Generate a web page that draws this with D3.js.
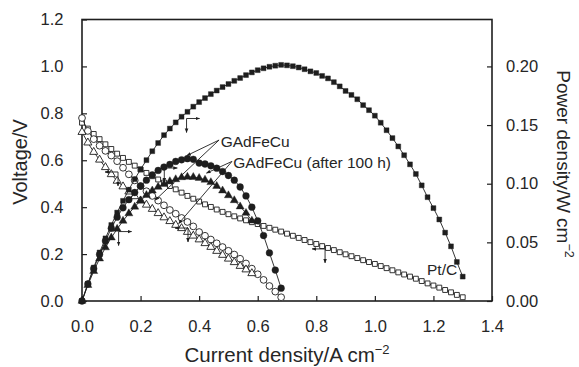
<!DOCTYPE html>
<html><head><meta charset="utf-8">
<script src="https://cdn.jsdelivr.net/npm/d3@7"></script>
<style>
html,body{margin:0;padding:0;background:#fff;}
svg{display:block;font-family:"Liberation Sans",Arial,sans-serif;}
</style></head>
<body><svg id="c" width="579" height="367"></svg>
<script>
// ---------------- data ----------------
const ptCurrent = [0.00,0.02,0.04,0.06,0.08,0.10,0.12,0.14,0.16,0.18,0.20,0.22,0.24,0.26,0.28,0.30,0.32,0.34,0.36,0.38,0.40,0.42,0.44,0.46,0.48,0.50,0.52,0.54,0.56,0.58,0.60,0.62,0.64,0.66,0.68,0.70,0.72,0.74,0.76,0.78,0.80,0.82,0.84,0.86,0.88,0.90,0.92,0.94,0.96,0.98,1.00,1.02,1.04,1.06,1.08,1.10,1.12,1.14,1.16,1.18,1.20,1.22,1.24,1.26,1.28,1.30];
const ptVoltage = [0.760,0.735,0.712,0.690,0.668,0.648,0.628,0.610,0.593,0.577,0.561,0.546,0.532,0.518,0.505,0.490,0.476,0.462,0.448,0.436,0.424,0.412,0.401,0.390,0.380,0.370,0.361,0.352,0.344,0.336,0.328,0.320,0.312,0.304,0.296,0.287,0.278,0.269,0.260,0.251,0.243,0.234,0.226,0.217,0.208,0.199,0.191,0.183,0.174,0.166,0.158,0.149,0.140,0.131,0.122,0.113,0.104,0.095,0.085,0.075,0.066,0.057,0.047,0.037,0.026,0.016];
const ptPower = [0.000,0.0147,0.0285,0.0414,0.0534,0.0648,0.0754,0.0854,0.0949,0.1039,0.1122,0.1201,0.1277,0.1347,0.1414,0.1470,0.1523,0.1571,0.1613,0.1657,0.1696,0.1730,0.1764,0.1794,0.1824,0.1850,0.1877,0.1901,0.1926,0.1949,0.1968,0.1984,0.1997,0.2006,0.2013,0.2009,0.2002,0.1991,0.1976,0.1958,0.1944,0.1919,0.1898,0.1866,0.1830,0.1791,0.1757,0.1720,0.1670,0.1627,0.1580,0.1520,0.1456,0.1389,0.1318,0.1243,0.1165,0.1083,0.0986,0.0885,0.0792,0.0695,0.0583,0.0466,0.0333,0.0208];

const gaCurrent = [0.00,0.02,0.04,0.06,0.08,0.10,0.12,0.14,0.16,0.18,0.20,0.22,0.24,0.26,0.28,0.30,0.32,0.34,0.36,0.38,0.40,0.42,0.44,0.46,0.48,0.50,0.52,0.54,0.56,0.58,0.60,0.62,0.64,0.66,0.68];
const gaVoltage = [0.780,0.725,0.690,0.662,0.640,0.620,0.596,0.568,0.540,0.514,0.490,0.468,0.448,0.428,0.408,0.388,0.372,0.354,0.337,0.318,0.294,0.278,0.262,0.246,0.230,0.214,0.198,0.180,0.160,0.138,0.114,0.090,0.064,0.040,0.016];
const gaPower = [0.000,0.0145,0.0276,0.0397,0.0512,0.0620,0.0715,0.0795,0.0864,0.0925,0.0980,0.1030,0.1075,0.1113,0.1142,0.1164,0.1190,0.1204,0.1213,0.1208,0.1176,0.1168,0.1153,0.1132,0.1104,0.1070,0.1030,0.0972,0.0896,0.0800,0.0684,0.0558,0.0410,0.0264,0.0109];

const agCurrent = [0.00,0.02,0.04,0.06,0.08,0.10,0.12,0.14,0.16,0.18,0.20,0.22,0.24,0.26,0.28,0.30,0.32,0.34,0.36,0.38,0.40,0.42,0.44,0.46,0.48,0.50,0.52,0.54,0.56,0.58];
const agVoltage = [0.720,0.675,0.635,0.602,0.570,0.540,0.512,0.488,0.466,0.446,0.428,0.410,0.392,0.374,0.356,0.340,0.324,0.310,0.294,0.278,0.262,0.246,0.230,0.213,0.196,0.180,0.165,0.149,0.134,0.118];
const agPower = [0.000,0.0135,0.0254,0.0361,0.0456,0.0540,0.0614,0.0683,0.0746,0.0803,0.0856,0.0902,0.0941,0.0972,0.0997,0.1020,0.1037,0.1054,0.1058,0.1056,0.1048,0.1033,0.1012,0.0980,0.0941,0.0900,0.0858,0.0805,0.0750,0.0684];

const xTicks = [0,0.2,0.4,0.6,0.8,1.0,1.2,1.4];
const yLeftTicks = [0,0.2,0.4,0.6,0.8,1.0,1.2];
const yRightTicks = [0,0.05,0.10,0.15,0.20];

const labelTexts = ["GAdFeCu","GAdFeCu (after 100 h)","Pt/C"];

// ---------------- layout ----------------
const svg = d3.select("#c");
const L = 82, R = 492, T = 19.5, B = 301;
const x = d3.scaleLinear().domain([0,1.4]).range([L,R]);
const yL = d3.scaleLinear().domain([0,1.2]).range([B,T]);
const yR = d3.scaleLinear().domain([0,0.24]).range([B,T]);
const ink = "#1e1e1e";
const txt = "#262626";

// frame
svg.append("rect").attr("x",L).attr("y",T).attr("width",R-L).attr("height",B-T)
  .attr("fill","none").attr("stroke",ink).attr("stroke-width",1.6);

function styleAxis(g){
  g.select(".domain").remove();
  g.selectAll(".tick line").attr("stroke",ink).attr("stroke-width",1.2);
  g.selectAll(".tick text").attr("fill",txt).style("font-size","16.5px");
}
svg.append("g").attr("transform",`translate(0,${B})`)
  .call(d3.axisBottom(x).tickValues(xTicks).tickFormat(d3.format(".1f")).tickSizeInner(-5).tickSizeOuter(0).tickPadding(19))
  .call(styleAxis);
svg.append("g").attr("transform",`translate(${L},0)`)
  .call(d3.axisLeft(yL).tickValues(yLeftTicks).tickFormat(d3.format(".1f")).tickSizeInner(-5).tickSizeOuter(0).tickPadding(18.5))
  .call(styleAxis);
svg.append("g").attr("transform",`translate(${R},0)`)
  .call(d3.axisRight(yR).tickValues(yRightTicks).tickFormat(d3.format(".2f")).tickSizeInner(-5).tickSizeOuter(0).tickPadding(14))
  .call(styleAxis);

// axis titles
const xt = svg.append("text").attr("x",(L+R)/2).attr("y",362).attr("text-anchor","middle")
  .attr("fill",txt).style("font-size","20.5px");
xt.append("tspan").text("Current density/A cm");
xt.append("tspan").attr("dy",-8).style("font-size","13px").text("\u22122");

svg.append("text").attr("transform","translate(27,162) rotate(-90)").attr("text-anchor","middle")
  .attr("fill",txt).style("font-size","20px").text("Voltage/V");

const rt = svg.append("text").attr("transform","translate(557,164) rotate(90)").attr("text-anchor","middle")
  .attr("fill",txt).style("font-size","19px");
rt.append("tspan").text("Power density/W cm");
rt.append("tspan").attr("dy",-8).style("font-size","12.5px").text("\u22122");

// ---------------- series ----------------
const plot = svg.append("g");
function series(cur, vals, scale, shape, filled, size){
  const pts = cur.map((c,i)=>[x(c), scale(vals[i])]);
  plot.append("path").attr("d", d3.line()(pts)).attr("fill","none").attr("stroke",ink).attr("stroke-width",0.9);
  plot.append("g").selectAll("path").data(pts).join("path")
    .attr("transform",d=>`translate(${d[0]},${d[1]})`)
    .attr("d", d3.symbol().type(shape).size(size))
    .attr("fill", filled ? ink : "#fff")
    .attr("stroke", ink).attr("stroke-width", filled ? 0.4 : 0.9);
}
series(ptCurrent, ptVoltage, yL, d3.symbolSquare, false, 24);
series(gaCurrent, gaVoltage, yL, d3.symbolCircle, false, 36);
series(agCurrent, agVoltage, yL, d3.symbolTriangle, false, 28);
series(ptCurrent, ptPower, yR, d3.symbolSquare, true, 24);
series(gaCurrent, gaPower, yR, d3.symbolCircle, true, 36);
series(agCurrent, agPower, yR, d3.symbolTriangle, true, 28);

// ---------------- annotations ----------------
const defs = svg.append("defs");
defs.append("marker").attr("id","ah").attr("viewBox","0 0 10 10").attr("refX",9).attr("refY",5)
  .attr("markerWidth",5).attr("markerHeight",5).attr("orient","auto-start-reverse")
  .append("path").attr("d","M0,1 L10,5 L0,9 Z").attr("fill",ink);

const ann = svg.append("g").attr("stroke",ink).attr("stroke-width",0.9).attr("fill","none");
// axis-pointer corners: [current, voltage, direction]
const corners = [[0.357,0.778,1],[0.281,0.567,1],[0.125,0.296,1],[0.362,0.311,-1],[0.830,0.222,-1],[0.123,0.55,-1]];
corners.forEach(([c,v,d])=>{
  const cx=x(c), cy=yL(v);
  ann.append("line").attr("x1",cx).attr("y1",cy).attr("x2",cx+d*13).attr("y2",cy).attr("marker-end","url(#ah)");
  ann.append("line").attr("x1",cx).attr("y1",cy).attr("x2",cx).attr("y2",cy+14).attr("marker-end","url(#ah)");
});
// leader lines: [fromI, fromV, toI, toV]
const leaders = [[0.468,0.686,0.358,0.62],[0.468,0.686,0.25,0.43],[0.512,0.595,0.425,0.545],[0.512,0.595,0.33,0.33]];
leaders.forEach(([a,b,c,d])=>{
  ann.append("line").attr("x1",x(a)).attr("y1",yL(b)).attr("x2",x(c)).attr("y2",yL(d)).attr("marker-end","url(#ah)");
});

const lab = svg.append("g").attr("fill",txt).style("font-size","15.5px");
lab.append("text").attr("x",x(0.4735)).attr("y",yL(0.658)).text(labelTexts[0]);
lab.append("text").attr("x",x(0.5166)).attr("y",yL(0.567)).text(labelTexts[1]);
lab.append("text").attr("x",x(1.178)).attr("y",yL(0.111)).text(labelTexts[2]);
</script></body></html>
